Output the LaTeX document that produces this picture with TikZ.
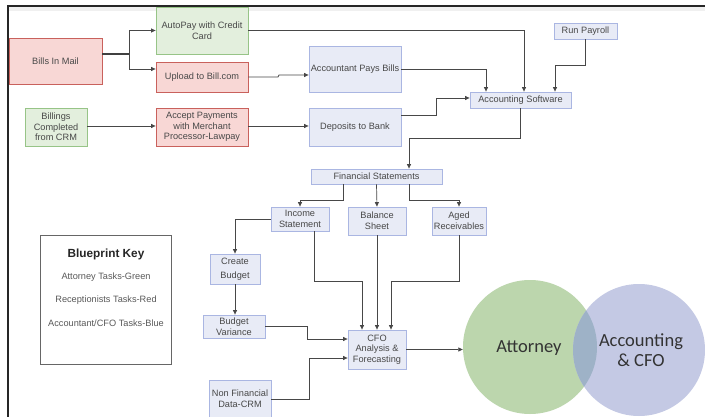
\documentclass[tikz,border=0pt]{standalone}
\usepackage{fontspec}
\setmainfont{Liberation Sans}
\newfontfamily\calib{Carlito}
\usetikzlibrary{arrows.meta,positioning,calc}
\definecolor{rfill}{HTML}{F8D7D5}
\definecolor{rdraw}{HTML}{C9615C}
\definecolor{gfill}{HTML}{E3EFDD}
\definecolor{gdraw}{HTML}{97C487}
\definecolor{bfill}{HTML}{E8EBF6}
\definecolor{bdraw}{HTML}{AAB6E2}
\definecolor{txt}{HTML}{484848}
\definecolor{cgreen}{HTML}{BCD6AD}
\definecolor{cblue}{HTML}{C4C9E4}
\definecolor{cmix}{HTML}{9EB2C7}
\tikzset{
  box/.style={draw, line width=0.8pt, inner sep=1pt, align=center, text=txt,
    font=\fontsize{9.2}{10.6}\selectfont},
  rbox/.style={box, fill=rfill, draw=rdraw},
  gbox/.style={box, fill=gfill, draw=gdraw},
  bbox/.style={box, fill=bfill, draw=bdraw},
  arr/.style={draw=black!72, line width=0.7pt, -{Triangle[length=4.5pt,width=4pt]}},
  keytxt/.style={font=\fontsize{9.2}{11}\selectfont, text=black!65},
}
\begin{document}
\begin{tikzpicture}[x=1pt,y=-1pt]
\useasboundingbox (0,0) rectangle (705,417);
\fill[white] (0,0) rectangle (705,417);
% frame
\fill[black!6] (9,7) rectangle (705,11);
\draw[black!85, line width=1.3pt] (8,417) -- (8,6) -- (705,6);

% circles
\node[circle, fill=cgreen, minimum size=134pt, inner sep=0pt] (att) at (530,347) {};
\node[circle, fill=cblue, minimum size=132pt, inner sep=0pt] (acc) at (639,350) {};
\begin{scope}
  \clip (530,347) circle[radius=67];
  \fill[cmix] (639,350) circle[radius=66];
\end{scope}
\node[font=\calib\fontsize{18.5}{20}\selectfont, text=black!80] (attT) at (529,348) {Attorney};
\node[font=\calib\fontsize{18.5}{20}\selectfont, text=black!80, align=center] (accT) at (641,350) {Accounting\\\& CFO};

% nodes
\node[rbox, minimum width=93pt, minimum height=46pt] (bills) at (55.5,61) {Bills In Mail};
\node[gbox, minimum width=92pt, minimum height=47pt] (auto) at (202,30.5) {AutoPay with Credit\\Card};
\node[rbox, minimum width=92pt, minimum height=30pt] (upload) at (202,77) {Upload to Bill.com};
\node[gbox, minimum width=62pt, minimum height=38pt] (billings) at (56,127) {Billings\\Completed\\from CRM};
\node[rbox, minimum width=92pt, minimum height=38pt] (accept) at (202,127) {Accept Payments\\with Merchant\\Processor-Lawpay};
\node[bbox, minimum width=92pt, minimum height=46pt] (pays) at (355,69) {Accountant Pays Bills};
\node[bbox, minimum width=92pt, minimum height=38pt] (dep) at (355,127) {Deposits to Bank};
\node[bbox, minimum width=101pt, minimum height=16pt] (sw) at (520.5,100) {Accounting Software};
\node[bbox, minimum width=63pt, minimum height=16pt] (pay) at (585.5,31) {Run Payroll};
\node[bbox, minimum width=131pt, minimum height=15pt] (fs) at (376.5,176.5) {Financial Statements};
\node[bbox, minimum width=58pt, minimum height=24pt] (inc) at (300,219) {Income\\Statement};
\node[bbox, minimum width=58pt, minimum height=28pt] (bal) at (377,221) {Balance\\Sheet};
\node[bbox, minimum width=54pt, minimum height=28pt] (aged) at (459,221) {Aged\\Receivables};
\node[bbox, minimum width=50pt, minimum height=30pt, font=\fontsize{9.2}{14}\selectfont] (cb) at (235,269) {Create\\Budget};
\node[bbox, minimum width=62pt, minimum height=23pt] (bv) at (234,326.5) {Budget\\Variance};
\node[bbox, minimum width=62pt, minimum height=37pt] (nf) at (240,398.5) {Non Financial\\Data-CRM};
\node[bbox, minimum width=58pt, minimum height=39pt] (cfo) at (377,349.5) {CFO\\Analysis \&\\Forecasting};

% key
\node[draw=black!60, line width=0.8pt, minimum width=131pt, minimum height=129pt] (key) at (105.5,299.5) {};
\node[font=\bfseries\fontsize{11.8}{14}\selectfont, text=black!85] (kt) at (106,254) {Blueprint Key};
\node[keytxt] (k1) at (106,277) {Attorney Tasks-Green};
\node[keytxt] (k2) at (106,300) {Receptionists Tasks-Red};
\node[keytxt] (k3) at (106,323) {Accountant/CFO Tasks-Blue};

% connectors
\coordinate (split) at (129,54);
\draw[draw=black!75, line width=1.2pt] ([yshift=7pt]bills.east) -- (split);
\draw[arr] (split) |- (auto.west);
\draw[arr] (split) |- ([yshift=8pt]upload.west);
\draw[arr] (upload.east) -- (278,77) -- (279,75) -- ([yshift=-6pt]pays.west);
\draw[arr] (billings.east |- 0,126) -- (accept.west |- 0,126);
\draw[arr] (accept.east |- 0,126) -- (dep.west |- 0,126);
\draw[arr] (auto.east) -| ([xshift=3.5pt]sw.north);
\draw[arr] (pays.east) -| ([xshift=-34.5pt]sw.north);
\draw[arr] (pay.south) -- ++(0,26) -| ([xshift=34.5pt]sw.north);
\draw[arr] ([yshift=12pt]dep.east) -- (436,115) |- ([yshift=2pt]sw.west);
\draw[arr] (sw.south) |- (409,138) -- ([xshift=32.5pt]fs.north);
\draw[arr] ([xshift=-33.5pt]fs.south) |- (300,200) -- (inc.north);
\draw[arr] (fs.south) -- (bal.north);
\draw[arr] ([xshift=32.5pt]fs.south) |- (459,200) -- (aged.north);
\draw[arr] (inc.west) -| (cb.north);
\draw[arr] (cb.south) -- (cb.south |- bv.north);
\draw[arr] ([xshift=14pt]inc.south) |- (362,281) -- ([xshift=-15pt]cfo.north);
\draw[arr] (bal.south) -- (cfo.north);
\draw[arr] (aged.south) |- (391,281) -- ([xshift=14pt]cfo.north);
\draw[arr] (bv.east) -| (307,339) -- ([yshift=10.5pt]cfo.west);
\draw[arr] (nf.east |- 0,399) -| (309,358) -- ([yshift=-8.5pt]cfo.west);
\draw[arr] (cfo.east) -- (cfo.east -| att.west);
\end{tikzpicture}
\end{document}
